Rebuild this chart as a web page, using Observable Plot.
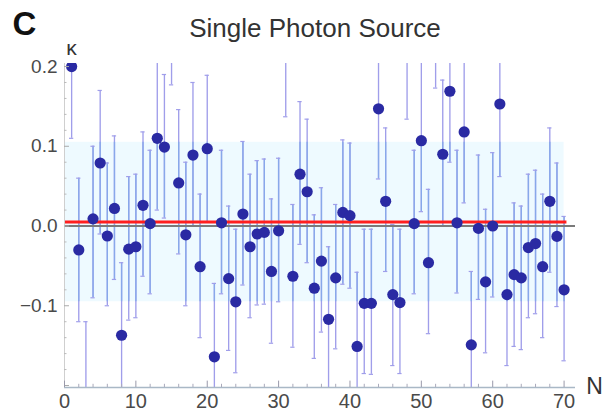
<!DOCTYPE html>
<html>
<head>
<meta charset="utf-8">
<script src="https://cdn.jsdelivr.net/npm/d3@7"></script>
<script src="https://cdn.jsdelivr.net/npm/@observablehq/plot@0.6"></script>
<style>
  html, body { margin: 0; padding: 0; background: #fff; }
  #chart svg { display: block; }
</style>
</head>
<body>
<div id="chart"></div>
<script>
// Trial index N
const N = [1,2,3,4,5,6,7,8,9,10,11,12,13,14,15,16,17,18,19,20,
  21,22,23,24,25,26,27,28,29,30,31,32,33,34,35,36,37,38,39,40,
  41,42,43,44,45,46,47,48,49,50,51,52,53,54,55,56,57,58,59,60,
  61,62,63,64,65,66,67,68,69,70];
// measured kappa
const kappa = [0.200,-0.030,-0.215,0.009,0.079,-0.0125,0.022,-0.137,-0.029,-0.026,
  0.026,0.003,0.110,0.099,0.267,0.054,-0.011,0.089,-0.051,0.097,
  -0.164,0.004,-0.066,-0.095,0.015,-0.026,-0.010,-0.008,-0.057,-0.006,
  0.227,-0.063,0.065,0.043,-0.078,-0.044,-0.117,-0.065,0.017,0.013,
  -0.151,-0.097,-0.097,0.147,0.031,-0.086,-0.096,0.224,0.003,0.107,
  -0.046,0.263,0.090,0.169,0.004,0.118,-0.149,-0.003,-0.070,0.000,
  0.153,-0.086,-0.061,-0.065,-0.027,-0.022,-0.051,0.031,-0.013,-0.080];
// error bar upper ends
const errHi = [0.29,0.060,-0.120,0.100,0.170,0.079,0.113,-0.046,0.062,0.065,
  0.118,0.095,0.205,0.190,0.360,0.146,0.080,0.180,0.040,0.189,
  -0.072,0.095,0.025,-0.004,0.106,0.065,0.082,0.084,0.034,0.085,
  0.320,0.027,0.156,0.134,0.014,0.048,-0.026,0.027,0.108,0.104,
  -0.058,-0.004,-0.004,0.240,0.123,0.002,-0.004,0.310,0.095,0.205,
  0.046,0.350,0.183,0.260,0.095,0.210,-0.057,0.089,0.021,0.092,
  0.240,0.000,0.029,0.025,0.065,0.070,0.040,0.123,0.079,0.012];
// error bar lower ends
const errLo = [0.110,-0.120,-0.310,-0.090,-0.010,-0.100,-0.067,-0.230,-0.118,-0.115,
  -0.063,-0.085,0.020,0.010,0.177,-0.035,-0.100,0.000,-0.140,0.005,
  -0.255,-0.085,-0.156,-0.184,-0.074,-0.115,-0.099,-0.098,-0.147,-0.095,
  0.137,-0.152,-0.023,-0.046,-0.166,-0.133,-0.210,-0.154,-0.073,-0.078,
  -0.240,-0.185,-0.186,0.059,-0.057,-0.175,-0.185,0.134,-0.085,0.018,
  -0.135,0.173,0.000,0.080,-0.084,0.029,-0.240,-0.092,-0.159,-0.089,
  0.062,-0.175,-0.151,-0.155,-0.115,-0.110,-0.140,-0.058,-0.101,-0.169];

const meanKappa = 0.005;      // red line
const bandHalfWidth = 0.1;    // shaded band half-width
const nMax = 70;

const xTicks = [0,10,20,30,40,50,60,70];
const xMinor = [2,4,6,8,12,14,16,18,22,24,26,28,32,34,36,38,42,44,46,48,52,54,56,58,62,64,66,68];
const yTicks = [-0.1,0.0,0.1,0.2];
const yMajorTicks = [-0.2,-0.1,0.0,0.1,0.2];
const yMinor = [-0.18,-0.16,-0.14,-0.12,-0.08,-0.06,-0.04,-0.02,0.02,0.04,0.06,0.08,0.12,0.14,0.16,0.18];

const data = N.map((n, i) => ({N: n, k: kappa[i], hi: errHi[i], lo: errLo[i]}));
const yMin = -0.2025, yMax = 0.2038;
const capW = 0.3;
const bandLo = meanKappa - bandHalfWidth, bandHi = meanKappa + bandHalfWidth;
const capsHi = data.filter(d => d.hi <= yMax);
const capsLo = data.filter(d => d.lo >= yMin);
const inBand = data.filter(d => d.hi > bandLo && d.lo < bandHi);

const font = "Liberation Sans, Arial, Helvetica, sans-serif";
const barColor = "#a09eea";
const barColorBand = "#88a8ea";

const chart = Plot.plot({
  width: 602,
  height: 416,
  marginLeft: 64,
  marginRight: 27,
  marginTop: 63,
  marginBottom: 29,
  style: {fontFamily: font, background: "#fff", fontSize: "19px"},
  x: {type: "linear", domain: [0, 71.6]},
  y: {type: "linear", domain: [yMin, yMax]},
  marks: [
    // shaded band
    Plot.rect([{x1: 0, x2: nMax, y1: bandLo, y2: bandHi}],
      {x1: "x1", x2: "x2", y1: "y1", y2: "y2", fill: "#eefaff"}),
    // error bars
    Plot.ruleX(data, {x: "N", y1: "lo", y2: "hi", stroke: barColor, strokeWidth: 1.35, clip: true}),
    Plot.ruleX(inBand, {x: "N", y1: d => Math.max(d.lo, bandLo), y2: d => Math.min(d.hi, bandHi),
      stroke: barColorBand, strokeWidth: 1.35}),
    Plot.ruleY(capsHi, {y: "hi", x1: d => d.N - capW, x2: d => d.N + capW, stroke: barColor, strokeWidth: 1.2}),
    Plot.ruleY(capsLo, {y: "lo", x1: d => d.N - capW, x2: d => d.N + capW, stroke: barColor, strokeWidth: 1.2}),
    // zero line and mean
    Plot.ruleY([0], {stroke: "#7a7a7a", strokeWidth: 2}),
    Plot.ruleY([meanKappa], {x1: 0, x2: nMax + 0.4, stroke: "#ff1f1f", strokeWidth: 3}),
    // points
    Plot.dot(data, {x: "N", y: "k", r: 5.6, fill: "#2a2aa3", stroke: "none", clip: true}),
    // axes lines
    Plot.ruleX([0], {stroke: "#cfcfcf", strokeWidth: 1}),
    Plot.ruleY([yMin], {stroke: "#a9b8c6", strokeWidth: 1.3}),
    // inward ticks
    Plot.ruleY(yMinor, {y: d => d, x1: 0, x2: 0.35, stroke: "#bbb", strokeWidth: 1}),
    Plot.ruleY(yMajorTicks, {y: d => d, x1: 0, x2: 0.7, stroke: "#aaa", strokeWidth: 1}),
    Plot.ruleX(xMinor, {x: d => d, y1: yMin, y2: yMin + 0.004, stroke: "#aab", strokeWidth: 1}),
    Plot.ruleX(xTicks, {x: d => d, y1: yMin, y2: yMin + 0.008, stroke: "#99a", strokeWidth: 1}),
    // tick labels
    Plot.axisY({ticks: yTicks, tickSize: 0, tickPadding: 7, tickFormat: d3.format(".1f"),
      fill: "#4a4a4a"}),
    Plot.axisX({ticks: xTicks, tickSize: 0, tickPadding: 6, tickFormat: d3.format("d"),
      fontSize: 20, fill: "#4a4a4a"}),
    // labels
    Plot.text(["Single Photon Source"], {frameAnchor: "top", dx: -5, dy: -35, lineAnchor: "middle",
      fontSize: 26, fill: "#333"}),
    Plot.text(["C"], {frameAnchor: "top-left", dx: -40, dy: -39, lineAnchor: "middle", textAnchor: "middle",
      fontSize: 33, fontWeight: "bold", fill: "#111"}),
    Plot.text(["κ"], {frameAnchor: "top-left", dx: 7, dy: -15, lineAnchor: "middle", textAnchor: "middle",
      fontSize: 21, fill: "#333"}),
    Plot.text(["N"], {frameAnchor: "bottom-right", dx: 19, dy: -1, lineAnchor: "middle", textAnchor: "middle",
      fontSize: 23, fill: "#333"})
  ]
});
document.getElementById("chart").appendChild(chart);
</script>
</body>
</html>
